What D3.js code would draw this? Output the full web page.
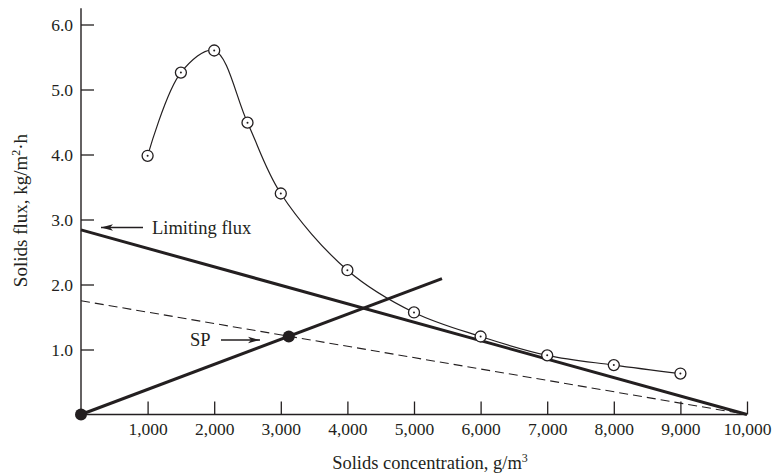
<!DOCTYPE html>
<html>
<head>
<meta charset="utf-8">
<script src="https://cdn.jsdelivr.net/npm/d3@7"></script>
<style>
  html, body { margin: 0; padding: 0; background: #fff; }
  svg { display: block; }
  text { font-family: "Liberation Serif", "Times New Roman", Times, serif; fill: #231f20; }
</style>
</head>
<body>
<svg id="chart" width="772" height="475"></svg>
<script>
// ---- Data ----
const xTickValues = [1000, 2000, 3000, 4000, 5000, 6000, 7000, 8000, 9000, 10000];
const yTickValues = [1.0, 2.0, 3.0, 4.0, 5.0, 6.0];
const concentration = [1000, 1500, 2000, 2500, 3000, 4000, 5000, 6000, 7000, 8000, 9000];
const solidsFlux = [3.98, 5.26, 5.60, 4.49, 3.40, 2.22, 1.57, 1.20, 0.91, 0.76, 0.63];
const limitingX = [0, 10000];
const limitingY = [2.84, 0];
const dashedX = [0, 10000];
const dashedY = [1.75, 0];
const underflowX = [0, 5420];
const underflowY = [0, 2.09];
const pointsX = [0, 3120];
const pointsY = [0, 1.2];

const svg = d3.select("#chart");
const ink = "#231f20";

const x = d3.scaleLinear().domain([0, 10000]).range([81, 747]);
const y = d3.scaleLinear().domain([0, 6]).range([414.5, 24.5]);

// defs arrow
svg.append("defs").append("marker")
  .attr("id", "arrow").attr("viewBox", "0 0 12 8")
  .attr("refX", 12).attr("refY", 4)
  .attr("markerWidth", 12).attr("markerHeight", 8)
  .attr("markerUnits", "userSpaceOnUse")
  .attr("orient", "auto")
  .append("path").attr("d", "M0,0.8 L12,4 L0,7.2 L3,4 Z").attr("fill", ink);

// axes
const xAxis = d3.axisBottom(x).tickValues(xTickValues)
  .tickSizeInner(-13).tickSizeOuter(0).tickPadding(8)
  .tickFormat(d3.format(","));
const gx = svg.append("g").attr("transform", `translate(0,${y(0)})`).call(xAxis);
gx.select(".domain").remove();
gx.selectAll("line").attr("stroke", ink).attr("stroke-width", 1.3);
gx.selectAll("text").attr("font-size", 17.5).attr("font-family", "Liberation Serif").attr("fill", ink);

const yAxis = d3.axisLeft(y).tickValues(yTickValues)
  .tickSizeInner(-13).tickSizeOuter(0).tickPadding(8)
  .tickFormat(d3.format(".1f"));
const gy = svg.append("g").attr("transform", `translate(${x(0)},0)`).call(yAxis);
gy.select(".domain").remove();
gy.selectAll("line").attr("stroke", ink).attr("stroke-width", 1.3);
gy.selectAll("text").attr("font-size", 17.5).attr("font-family", "Liberation Serif").attr("fill", ink);

// axis lines
svg.append("line").attr("x1", x(0)).attr("x2", x(0)).attr("y1", y(6.25)).attr("y2", y(0))
  .attr("stroke", ink).attr("stroke-width", 1.4);
svg.append("line").attr("x1", x(0)).attr("x2", x(10000)).attr("y1", y(0)).attr("y2", y(0))
  .attr("stroke", ink).attr("stroke-width", 1.4);

// axis titles
svg.append("text").attr("x", 430).attr("y", 469).attr("text-anchor", "middle")
  .attr("font-size", 18.5)
  .html('Solids concentration, g/m<tspan baseline-shift="super" font-size="12">3</tspan>');
svg.append("text").attr("transform", "translate(27,210.5) rotate(-90)").attr("text-anchor", "middle")
  .attr("font-size", 19)
  .html('Solids flux, kg/m<tspan baseline-shift="super" font-size="12">2</tspan>·h');

const line = d3.line().x(d => x(d[0])).y(d => y(d[1]));

// dashed line
svg.append("path").datum(d3.zip(dashedX, dashedY)).attr("d", line)
  .attr("fill", "none").attr("stroke", ink).attr("stroke-width", 1.1).attr("stroke-dasharray", "9,5");

// limiting flux line
svg.append("path").datum(d3.zip(limitingX, limitingY)).attr("d", line)
  .attr("fill", "none").attr("stroke", ink).attr("stroke-width", 3);

// underflow line
svg.append("path").datum(d3.zip(underflowX, underflowY)).attr("d", line)
  .attr("fill", "none").attr("stroke", ink).attr("stroke-width", 3);

// flux curve
const curveLine = d3.line().x(d => x(d[0])).y(d => y(d[1])).curve(d3.curveCatmullRom.alpha(0.5));
svg.append("path").datum(d3.zip(concentration, solidsFlux)).attr("d", curveLine)
  .attr("fill", "none").attr("stroke", ink).attr("stroke-width", 1.2);

// open circle markers with center dots
const pts = svg.append("g").selectAll("g").data(d3.zip(concentration, solidsFlux)).join("g")
  .attr("transform", d => `translate(${x(d[0])},${y(d[1])})`);
pts.append("circle").attr("r", 5.5).attr("fill", "#fff").attr("stroke", ink).attr("stroke-width", 1.3);
pts.append("circle").attr("r", 1).attr("fill", ink);

// filled points
svg.append("g").selectAll("circle").data(d3.zip(pointsX, pointsY)).join("circle")
  .attr("cx", d => x(d[0])).attr("cy", d => y(d[1])).attr("r", 6).attr("fill", ink);

// annotations
svg.append("text").attr("x", 152).attr("y", 233.5).attr("font-size", 18.5).text("Limiting flux");
svg.append("line").attr("x1", 143).attr("y1", 227.5).attr("x2", 101).attr("y2", 227.5)
  .attr("stroke", ink).attr("stroke-width", 1.3).attr("marker-end", "url(#arrow)");

svg.append("text").attr("x", 190).attr("y", 345.5).attr("font-size", 18.5).text("SP");
svg.append("line").attr("x1", 221).attr("y1", 340).attr("x2", 260).attr("y2", 340)
  .attr("stroke", ink).attr("stroke-width", 1.3).attr("marker-end", "url(#arrow)");
</script>
</body>
</html>
